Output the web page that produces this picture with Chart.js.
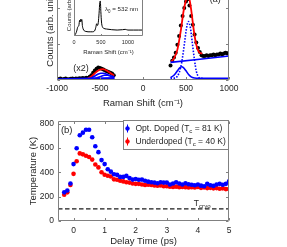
<!DOCTYPE html>
<html>
<head>
<meta charset="utf-8">
<script src="https://cdn.jsdelivr.net/npm/chart.js@4"></script>
<style>
  body { margin: 0; width: 287px; height: 247px; overflow: hidden; background: #fff; position: relative; }
  canvas { position: absolute; }
</style>
</head>
<body>
<canvas id="ca" width="287" height="132" style="left:0;top:-20px"></canvas>
<canvas id="ci" width="86" height="78" style="left:60px;top:-20px;background:#fff"></canvas>
<canvas id="cb" width="287" height="135" style="left:0;top:112px"></canvas>
<script>
// ---- panel (a): Raman spectrum ----
var shiftTicks = [-1000, -500, 0, 500, 1000];
var countTicks = [0, 45, 90];

// anti-Stokes side (shown x2)
var asShift = [-1000,-980,-960,-940,-920,-900,-880,-860,-840,-820,-800,-780,-760,-740,-720,-700,-680,-660,-640,-620,-600,-580,-560,-540,-520,-500,-480,-460,-440,-420,-400,-380,-360,-340];
var asCounts = [1.5,1,1.8,0.5,1.2,2,1,0.8,1.5,1.8,1.2,2,1.5,2.2,1.8,2.5,2,2.8,2.5,4,6,9,12,14,15.5,15,14,13,12,11,10,9,8,6];
var asFitShift = [-640,-600,-560,-520,-490,-465,-440,-410,-380,-350,-335];
var asFitCounts = [2,4.5,8.5,11.8,13.2,13.5,12.8,11,8.8,6.5,5.5];
var asBgShift = [-1000, -330];
var asBgCounts = [0.8, 2.5];
var asG1Shift = [-640,-600,-560,-520,-490,-460,-430,-400,-370,-335];
var asG1Counts = [1,2.5,5,7.5,8.5,8.5,7.5,6,4.5,3.5];
var asG2Shift = [-600,-540,-490,-450,-410,-370,-335];
var asG2Counts = [1,2.5,4.5,6,6,5,4];

// Stokes side
var stShift = [320,340,360,380,400,420,440,460,480,500,520,540,560,580,600,620,640,660,680,700,720,740,760,780,800,820,840,860,880,900,920,940,960,980,1000];
var stCounts = [18,24,28,34,44,55,68,80,90,98,101,93,80,69,57,47,40,35,31,30,30,31,30,31,31,32,31,32,32,33,32,33,34,33,34];
var stFitShift = [330,360,400,440,470,500,520,540,560,580,600,620,640,660,690];
var stFitCounts = [23,27,38,62,85,100,106,101,88,71,55,44,37,34,33];
var stBgShift = [320, 1000];
var stBgCounts = [22, 30];
var stMainShift = [320,380,420,450,480,505,527,550,575,600,620,640,660,700];
var stMainCounts = [2,3,9,22,44,64,73,66,45,24,11,5,2.5,2];
var stSideShift = [320,360,400,430,450,470,500,530,560,600,650,1000];
var stSideCounts = [3,6,11.5,15.5,16.5,15.5,11.5,7,4,2.5,2,2];

// inset: full spectrum
var inTicks = [0, 500, 1000];
var inShift = [10,30,50,70,90,105,115,125,135,145,155,170,190,220,260,300,340,370,390,405,420,435,450,465,478,488,498,510,525,550,600,700,800,900,950,1000,1100,1200,1280];
var inCounts = [2,6,14,26,30,45,40,48,42,47,30,20,15,13,12,12,12,13,17,25,35,30,38,65,95,100,70,40,27,22,20,18,17,18,19,17,17,17,17];

// ---- panel (b): temperature vs delay ----
var timeTicks = [0, 1, 2, 3, 4, 5];
var tempTicks = [0, 200, 400, 600, 800];
var delayTime = [-0.3,-0.2,-0.1,0,0.1,0.2,0.3,0.4,0.5,0.6,0.7,0.8,0.9,1.0,1.1,1.2,1.3,1.4,1.5,1.6,1.7,1.8,1.9,2.0,2.1,2.2,2.3,2.4,2.5,2.6,2.7,2.8,2.9,3.0,3.1,3.2,3.3,3.4,3.5,3.6,3.7,3.8,3.9,4.0,4.1,4.2,4.3,4.4,4.5,4.6,4.7,4.8,4.9,5.0];
var optDoped = [235,250,308,467,597,704,725,749,749,688,613,565,500,467,425,405,384,379,362,362,370,352,340,345,338,340,330,323,318,315,310,318,315,315,300,308,318,308,300,310,302,298,293,300,290,285,305,293,288,300,305,298,305,325];
var underDoped = [215,235,295,387,491,555,547,536,525,504,464,440,400,380,372,365,342,338,330,325,318,315,308,305,305,300,295,298,295,292,290,292,285,285,282,280,282,278,280,278,275,277,275,280,272,275,270,272,268,270,265,268,262,262];
var seriesNames = ['Opt. Doped', 'Underdoped'];
var seriesTc = [81, 40];
var tCryo = 100;

var FONT = "'Liberation Sans', Arial, Helvetica, sans-serif";
var INK = '#262626';
var AXIS = '#808080';

function pairs(xs, ys) {
  return xs.map(function (x, i) { return { x: x, y: ys[i] }; });
}

function line(xs, ys, color, width, order, dash) {
  return {
    data: pairs(xs, ys), showLine: true, pointRadius: 0, borderColor: color,
    borderWidth: width, borderDash: dash || [], cubicInterpolationMode: 'monotone', order: order
  };
}

function richText(ctx, parts, px, py, size, align) {
  var w = 0;
  parts.forEach(function (p) {
    ctx.font = (p.sub ? size * 0.72 : size) + 'px ' + FONT;
    w += ctx.measureText(p.t).width;
  });
  var cx = align === 'center' ? px - w / 2 : px;
  parts.forEach(function (p) {
    var s = p.sub ? size * 0.72 : size;
    ctx.font = s + 'px ' + FONT;
    ctx.fillText(p.t, cx, py + (p.sub ? size * 0.32 : 0));
    cx += ctx.measureText(p.t).width;
  });
}

// matlab-like box with inward ticks
var boxPlugin = {
  id: 'box',
  afterDatasetsDraw: function (chart, args, o) {
    var ctx = chart.ctx, a = chart.chartArea, sx = chart.scales.x, sy = chart.scales.y;
    var l = Math.round(a.left) + 0.5, r = Math.round(a.right) - 0.5;
    var t = Math.round(a.top) + 0.5, b = Math.round(a.bottom) - 0.5;
    var L = o.len;
    ctx.save();
    ctx.strokeStyle = AXIS;
    ctx.lineWidth = 1;
    ctx.beginPath();
    if (o.sides.indexOf('l') >= 0) { ctx.moveTo(l, t); ctx.lineTo(l, b); }
    if (o.sides.indexOf('r') >= 0) { ctx.moveTo(r, t); ctx.lineTo(r, b); }
    if (o.sides.indexOf('b') >= 0) { ctx.moveTo(l, b); ctx.lineTo(r, b); }
    if (o.sides.indexOf('t') >= 0) { ctx.moveTo(l, t); ctx.lineTo(r, t); }
    sx.ticks.forEach(function (k) {
      var px = Math.round(sx.getPixelForValue(k.value)) + 0.5;
      ctx.moveTo(px, b); ctx.lineTo(px, b - L);
      if (o.sides.indexOf('t') >= 0) { ctx.moveTo(px, t); ctx.lineTo(px, t + L); }
    });
    if (o.yticks) {
      sy.ticks.forEach(function (k) {
        var py = Math.round(sy.getPixelForValue(k.value)) + 0.5;
        ctx.moveTo(l, py); ctx.lineTo(l + L, py);
        if (o.sides.indexOf('r') >= 0) { ctx.moveTo(r, py); ctx.lineTo(r - L, py); }
      });
    }
    ctx.stroke();
    ctx.restore();
  }
};

var notesPlugin = {
  id: 'notes',
  afterDraw: function (chart, args, o) {
    var ctx = chart.ctx, sx = chart.scales.x, sy = chart.scales.y;
    ctx.save();
    ctx.fillStyle = INK;
    ctx.textAlign = 'left';
    ctx.textBaseline = 'middle';
    (o.items || []).forEach(function (n) {
      richText(ctx, n.parts, sx.getPixelForValue(n.x), sy.getPixelForValue(n.y), n.size, n.align);
    });
    ctx.restore();
  }
};

var legendPlugin = {
  id: 'mlegend',
  afterDraw: function (chart, args, o) {
    if (!o.show) return;
    var ctx = chart.ctx, a = chart.chartArea;
    var bx = Math.round(a.left + o.dx) + 0.5, by = Math.round(a.top + o.dy) + 0.5;
    ctx.save();
    ctx.fillStyle = '#fff';
    ctx.fillRect(bx, by, o.w, o.h);
    ctx.strokeStyle = AXIS;
    ctx.lineWidth = 1;
    ctx.strokeRect(bx, by, o.w, o.h);
    ctx.textAlign = 'left';
    ctx.textBaseline = 'middle';
    seriesNames.forEach(function (name, i) {
      var y = by + o.row0 + i * o.rowGap;
      var col = o.colors[i];
      ctx.strokeStyle = col;
      ctx.beginPath();
      ctx.moveTo(bx + 4, y - 4); ctx.lineTo(bx + 4, y + 4);
      ctx.stroke();
      ctx.fillStyle = col;
      ctx.beginPath();
      ctx.arc(bx + 4, y, 2.2, 0, Math.PI * 2);
      ctx.fill();
      ctx.fillStyle = INK;
      richText(ctx, [{ t: name + ' (T' }, { t: 'c', sub: true }, { t: ' = ' + seriesTc[i] + ' K)' }], bx + 12, y, 8.5, 'left');
    });
    ctx.restore();
  }
};

function fixedTicks(arr) {
  return function (s) { s.ticks = arr.map(function (v) { return { value: v }; }); };
}
function label(v) { return String(v); }

Chart.defaults.font.family = FONT;
Chart.defaults.color = INK;

// panel (a)
new Chart(document.getElementById('ca'), {
  type: 'scatter',
  data: {
    datasets: [
      line(asBgShift, asBgCounts, '#0000ff', 2, 1),
      line(asG1Shift, asG1Counts, '#0000ff', 1.6, 1),
      line(asG2Shift, asG2Counts, '#0000ff', 1.6, 1),
      line(asFitShift, asFitCounts, '#ff0000', 1.8, 2),
      line(stBgShift, stBgCounts, '#0000ff', 1.6, 1),
      line(stSideShift, stSideCounts, '#0000ff', 1.6, 1),
      line(stMainShift, stMainCounts, '#0000ff', 1.6, 1, [1.5, 1.5]),
      line(stFitShift, stFitCounts, '#ff0000', 1.8, 2),
      { data: pairs(asShift, asCounts), pointRadius: 2, pointBorderWidth: 0, backgroundColor: '#000', order: 3 },
      { data: pairs(stShift, stCounts), pointRadius: 2, pointBorderWidth: 0, backgroundColor: '#000', order: 3 }
    ]
  },
  options: {
    responsive: false, animation: false, devicePixelRatio: 1,
    layout: { padding: { left: 40, right: 58, top: 0, bottom: 0 }, autoPadding: false },
    plugins: {
      legend: { display: false }, tooltip: { enabled: false },
      box: { sides: 'lrb', len: 2.5, yticks: true },
      notes: { items: [
        { parts: [{ t: '(a)' }], x: 840, y: 100, size: 9, align: 'center' },
        { parts: [{ t: '(x2)' }], x: -721, y: 14.5, size: 9, align: 'center' }
      ] }
    },
    scales: {
      x: {
        type: 'linear', min: -1000, max: 1000,
        afterBuildTicks: fixedTicks(shiftTicks),
        afterFit: function (s) { s.height = 32; },
        grid: { display: false, drawTicks: false }, border: { display: false },
        ticks: { callback: label, padding: 4, font: { size: 8.5 } },
        title: { display: true, text: 'Raman Shift (cm\u207B\u00B9)', font: { size: 9.5 }, padding: { top: 0, bottom: 3.3 } }
      },
      y: {
        min: 0, max: 125,
        afterBuildTicks: fixedTicks(countTicks),
        afterFit: function (s) { s.width = 17; },
        grid: { display: false, drawTicks: false }, border: { display: false },
        ticks: { display: false },
        title: { display: true, text: 'Counts (arb. unit)', font: { size: 9.5 }, padding: { top: 4.3, bottom: 0 } }
      }
    }
  },
  plugins: [boxPlugin, notesPlugin]
});

// inset
new Chart(document.getElementById('ci'), {
  type: 'scatter',
  data: { datasets: [ line(inShift, inCounts, '#000', 1, 1) ] },
  options: {
    responsive: false, animation: false, devicePixelRatio: 1,
    layout: { padding: { left: 0, right: 3, top: 0, bottom: 0 }, autoPadding: false },
    plugins: {
      legend: { display: false }, tooltip: { enabled: false },
      box: { sides: 'lrb', len: 1.5, yticks: false },
      notes: { items: [
        { parts: [{ t: '\u03BB' }, { t: '0', sub: true }, { t: ' = 532 nm' }], x: 574, y: 76, size: 6.2, align: 'left' }
      ] }
    },
    scales: {
      x: {
        type: 'linear', min: 0, max: 1280,
        afterBuildTicks: fixedTicks(inTicks),
        afterFit: function (s) { s.height = 22; },
        grid: { display: false, drawTicks: false }, border: { display: false },
        ticks: { callback: label, padding: 3, font: { size: 5.5 } },
        title: { display: true, text: 'Raman Shift (cm\u207B\u00B9)', font: { size: 6 }, padding: { top: 0, bottom: 2.4 } }
      },
      y: {
        min: 0, max: 160,
        afterBuildTicks: fixedTicks([]),
        afterFit: function (s) { s.width = 14; },
        grid: { display: false, drawTicks: false }, border: { display: false },
        ticks: { display: false },
        title: { display: true, text: 'Counts (arb. unit)', font: { size: 6 }, padding: { top: 5.4, bottom: 0 } }
      }
    }
  },
  plugins: [boxPlugin, notesPlugin]
});

// panel (b)
new Chart(document.getElementById('cb'), {
  type: 'scatter',
  data: {
    datasets: [
      { data: pairs(delayTime, optDoped), pointRadius: 2.3, pointBorderWidth: 0, backgroundColor: '#0000ff', order: 1 },
      { data: pairs(delayTime, underDoped), pointRadius: 2.3, pointBorderWidth: 0, backgroundColor: '#ff0000', order: 2 },
      line([-0.5, 5], [tCryo, tCryo], '#1a1a1a', 1.2, 3, [4.5, 2.5])
    ]
  },
  options: {
    responsive: false, animation: false, devicePixelRatio: 1,
    layout: { padding: { left: 22, right: 58, top: 7, bottom: 0 }, autoPadding: false },
    plugins: {
      legend: { display: false }, tooltip: { enabled: false },
      box: { sides: 'lrbt', len: 2.5, yticks: true },
      notes: { items: [
        { parts: [{ t: '(b)' }], x: -0.22, y: 744, size: 9.5, align: 'center' },
        { parts: [{ t: 'T' }, { t: 'cryo', sub: true }], x: 3.87, y: 140, size: 8.5, align: 'left' }
      ] },
      mlegend: { show: true, dx: 65, dy: -1, w: 105, h: 29, row0: 8, rowGap: 13, colors: ['#0000ff', '#ff0000'] }
    },
    scales: {
      x: {
        type: 'linear', min: -0.5, max: 5,
        afterBuildTicks: fixedTicks(timeTicks),
        afterFit: function (s) { s.height = 26; },
        grid: { display: false, drawTicks: false }, border: { display: false },
        ticks: { callback: label, padding: 5, font: { size: 8.5 } },
        title: { display: true, text: 'Delay Time (ps)', font: { size: 9.5 }, padding: { top: 0, bottom: 0.3 } }
      },
      y: {
        min: 0, max: 820,
        afterBuildTicks: fixedTicks(tempTicks),
        afterFit: function (s) { s.width = 36; },
        grid: { display: false, drawTicks: false }, border: { display: false },
        ticks: { callback: label, padding: 4, font: { size: 8.5 } },
        title: { display: true, text: 'Temperature (K)', font: { size: 9.5 }, padding: { top: 5.3, bottom: 0 } }
      }
    }
  },
  plugins: [boxPlugin, notesPlugin, legendPlugin]
});
</script>
</body>
</html>
